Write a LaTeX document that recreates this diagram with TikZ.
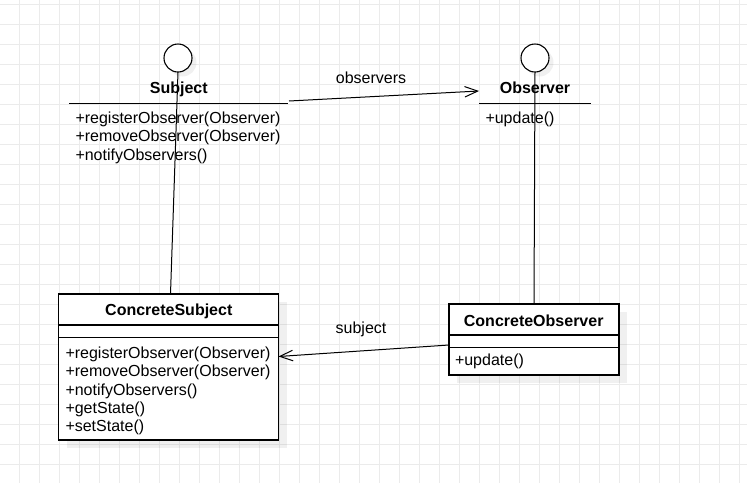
\documentclass[tikz,border=0pt]{standalone}
\usepackage{fontspec}
\setmainfont{Liberation Sans}
\usetikzlibrary{arrows.meta,calc}
\begin{document}
\begin{tikzpicture}[x=1pt,y=-1pt,
  every node/.style={font=\fontsize{16}{18}\selectfont, inner sep=0pt, outer sep=0pt},
  title/.style={font=\fontsize{16}{18}\selectfont\bfseries, anchor=base},
  member/.style={anchor=base west},
  classbox/.style={rectangle, draw=black, line width=1.2pt, fill=white},
  region/.style={rectangle, minimum height=30pt},
  iface/.style={circle, draw=black, line width=1.1pt, fill=white, minimum size=28pt},
  shade/.style={fill=black, opacity=0.06},
  sepline/.style={draw=black, line width=1.2pt},
  assoc/.style={draw=black, line width=1pt, -{Straight Barb[length=13pt,width=10.5pt,line width=1pt]}},
  stem/.style={draw=black, line width=1pt},
  gridline/.style={draw=black!8, line width=1pt}
]
\useasboundingbox (0,0) rectangle (747,483);
\fill[white] (0,0) rectangle (747,483);

% background grid
\foreach \gx in {19.5,39.5,...,739.5} \draw[gridline] (\gx,0) -- (\gx,483);
\foreach \gy in {4,24,...,484} \draw[gridline] (0,\gy) -- (747,\gy);

% drop shadows
\fill[shade] (66.5,302) rectangle (286.5,448);
\fill[shade] (457,312) rectangle (627,383);
\fill[shade] (182.5,62.5) circle (14);
\fill[shade] (539.5,62.5) circle (14);

% interface Subject
\node[iface] (sc) at (178,58) {};
\node[region, minimum width=219pt, anchor=south west] (sh) at (69,103.5) {};
\node[title] (st) at (178.8,93.3) {Subject};
\draw[sepline] (sh.south west) -- (sh.south east);
\node[member] (s1) at (75.5,123.3) {+registerObserver(Observer)};
\node[member] (s2) at (75.5,141.7) {+removeObserver(Observer)};
\node[member] (s3) at (75.5,160) {+notifyObservers()};

% interface Observer
\node[iface] (oc) at (535,58) {};
\node[region, minimum width=112pt, anchor=south west] (oh) at (479,103.5) {};
\node[title] (ot) at (535,93.3) {Observer};
\draw[sepline] (oh.south west) -- (oh.south east);
\node[member] (o1) at (485.5,123) {+update()};

% class ConcreteSubject
\node[classbox, minimum width=220pt, minimum height=146pt, anchor=north west] (cs) at (58.5,294) {};
\draw[sepline] ($(cs.north west)+(0,31)$) -- ($(cs.north east)+(0,31)$);
\draw[sepline] ($(cs.north west)+(0,43.5)$) -- ($(cs.north east)+(0,43.5)$);
\node[title] (cst) at (168.8,315.7) {ConcreteSubject};
\node[member] (c1) at (65.5,358.3) {+registerObserver(Observer)};
\node[member] (c2) at (65.5,376.7) {+removeObserver(Observer)};
\node[member] (c3) at (65.5,395) {+notifyObservers()};
\node[member] (c4) at (65.5,413.4) {+getState()};
\node[member] (c5) at (65.5,431.8) {+setState()};

% class ConcreteObserver
\node[classbox, minimum width=170pt, minimum height=71pt, anchor=north west] (co) at (449,304) {};
\draw[sepline] ($(co.north west)+(0,31)$) -- ($(co.north east)+(0,31)$);
\draw[sepline] ($(co.north west)+(0,43.5)$) -- ($(co.north east)+(0,43.5)$);
\node[title] (cot) at (533.7,326) {ConcreteObserver};
\node[member] (u1) at (455,365) {+update()};

% realization stems
\draw[stem] (sc.south) -- ([xshift=2pt]cs.north);
\draw[stem] (oc.south) -- (co.north);

% associations
\draw[assoc] ([xshift=1pt,yshift=2.5pt]sh.south east) -- ([yshift=12.5pt]oh.south west);
\node[anchor=base] (lobs) at (371,83.3) {observers};
\draw[assoc] ([yshift=-5.5pt]co.west) -- ([yshift=10.5pt]cs.east);
\node[anchor=base] (lsub) at (361,333.3) {subject};
\end{tikzpicture}
\end{document}
